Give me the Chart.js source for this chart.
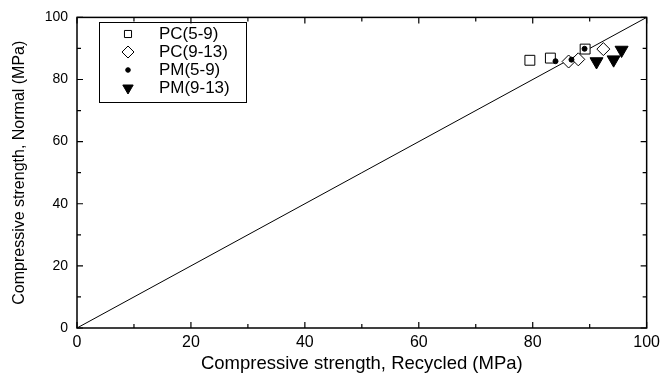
<!DOCTYPE html>
<html>
<head>
<meta charset="utf-8">
<script src="https://cdn.jsdelivr.net/npm/chart.js@4.4.1/dist/chart.umd.min.js"></script>
<style>
  html, body { margin: 0; padding: 0; background: #fff; }
  #wrap { width: 665px; height: 379px; }
</style>
</head>
<body>
<div id="wrap"><canvas id="chart" width="665" height="379"></canvas></div>
<script>
// values (recycled, normal) in MPa
const pc59 = [{ x: 79.5, y: 86.2 }, { x: 83.1, y: 86.9 }, { x: 89.2, y: 89.8 }];
const pc913 = [{ x: 86.3, y: 85.8 }, { x: 88.0, y: 86.5 }, { x: 92.4, y: 89.8 }];
const pm59 = [{ x: 84.0, y: 85.9 }, { x: 86.8, y: 86.4 }, { x: 89.1, y: 89.9 }];
const pm913 = [{ x: 91.2, y: 85.8 }, { x: 94.2, y: 86.4 }, { x: 95.6, y: 89.5 }];
const equality = [{ x: 0, y: 0 }, { x: 100, y: 100 }];

const legendNames = ['PC(5-9)', 'PC(9-13)', 'PM(5-9)', 'PM(9-13)'];
const legendRadius = [5, 6, 2.3, 6];

const font = 'Liberation Sans, Arial, sans-serif';

// box round the plot, ticks pointing inwards on all four sides
const frame = {
  id: 'frame',
  afterDraw(chart) {
    const { ctx, chartArea: a, scales } = chart;
    ctx.save();
    ctx.strokeStyle = '#000';
    ctx.lineWidth = 1.5;
    ctx.strokeRect(a.left, a.top, a.right - a.left, a.bottom - a.top);
    ctx.lineWidth = 1.2;
    for (let v = 0; v <= 100; v += 10) {
      const len = v % 20 === 0 ? 6 : 4;
      const px = scales.x.getPixelForValue(v);
      const py = scales.y.getPixelForValue(v);
      ctx.beginPath();
      ctx.moveTo(px, a.bottom); ctx.lineTo(px, a.bottom - len);
      ctx.moveTo(px, a.top); ctx.lineTo(px, a.top + len);
      ctx.moveTo(a.left, py); ctx.lineTo(a.left + len, py);
      ctx.moveTo(a.right, py); ctx.lineTo(a.right - len, py);
      ctx.stroke();
    }
    ctx.restore();
  }
};

// legend box in the top-left corner
const boxLegend = {
  id: 'boxLegend',
  afterDraw(chart) {
    const { ctx } = chart;
    ctx.save();
    ctx.strokeStyle = '#000';
    ctx.lineWidth = 1;
    ctx.strokeRect(99.5, 22.5, 147, 80);
    ctx.font = '16px ' + font;
    ctx.textBaseline = 'middle';
    legendNames.forEach((name, i) => {
      const ds = chart.data.datasets[i];
      const y = 34 + i * 18;
      ctx.fillStyle = ds.backgroundColor;
      ctx.strokeStyle = '#000';
      ctx.lineWidth = 1;
      Chart.helpers.drawPoint(ctx, {
        pointStyle: ds.pointStyle,
        radius: legendRadius[i],
        rotation: ds.rotation || 0,
        borderWidth: 1
      }, 128, y);
      ctx.fillStyle = '#000';
      ctx.save();
      ctx.translate(159, y + 1);
      ctx.scale(1.06, 1);
      ctx.fillText(name, 0, 0);
      ctx.restore();
    });
    ctx.restore();
  }
};

new Chart(document.getElementById('chart'), {
  type: 'scatter',
  data: {
    datasets: [
      { label: legendNames[0], data: pc59, order: 3, pointStyle: 'rect', pointRadius: 7, backgroundColor: '#fff', borderColor: '#000', borderWidth: 1 },
      { label: legendNames[1], data: pc913, order: 2, pointStyle: 'rectRot', pointRadius: 6.5, backgroundColor: '#fff', borderColor: '#000', borderWidth: 1 },
      { label: legendNames[2], data: pm59, order: 0, pointStyle: 'circle', pointRadius: 2.5, backgroundColor: '#000', borderColor: '#000', borderWidth: 1 },
      { label: legendNames[3], data: pm913, order: 1, pointStyle: 'triangle', rotation: 180, pointRadius: 7.5, backgroundColor: '#000', borderColor: '#000', borderWidth: 1 },
      { label: 'line', data: equality, order: 5, showLine: true, pointRadius: 0, borderColor: '#000', borderWidth: 1 }
    ]
  },
  options: {
    responsive: false,
    animation: false,
    layout: { padding: { top: 10, right: 16, left: 0, bottom: 0 } },
    plugins: { legend: { display: false }, tooltip: { enabled: false } },
    scales: {
      x: {
        type: 'linear', min: 0, max: 100,
        grid: { display: false, drawTicks: false, tickLength: 0 },
        border: { display: false },
        ticks: { stepSize: 20, color: '#000', padding: 5, font: { family: font, size: 16 } },
        title: { display: true, text: 'Compressive strength, Recycled (MPa)', color: '#000', font: { family: font, size: 18.5 }, padding: { top: 7 } },
        afterFit(s) { s.height = 51; }
      },
      y: {
        type: 'linear', min: 0, max: 100,
        grid: { display: false, drawTicks: false, tickLength: 0 },
        border: { display: false },
        ticks: { stepSize: 20, color: '#000', padding: 9, font: { family: font, size: 14 } },
        title: { display: true, text: 'Compressive strength, Normal (MPa)', color: '#000', font: { family: font, size: 16 }, padding: { top: 10 } },
        afterFit(s) { s.width = 77; }
      }
    }
  },
  plugins: [frame, boxLegend]
});
</script>
</body>
</html>
